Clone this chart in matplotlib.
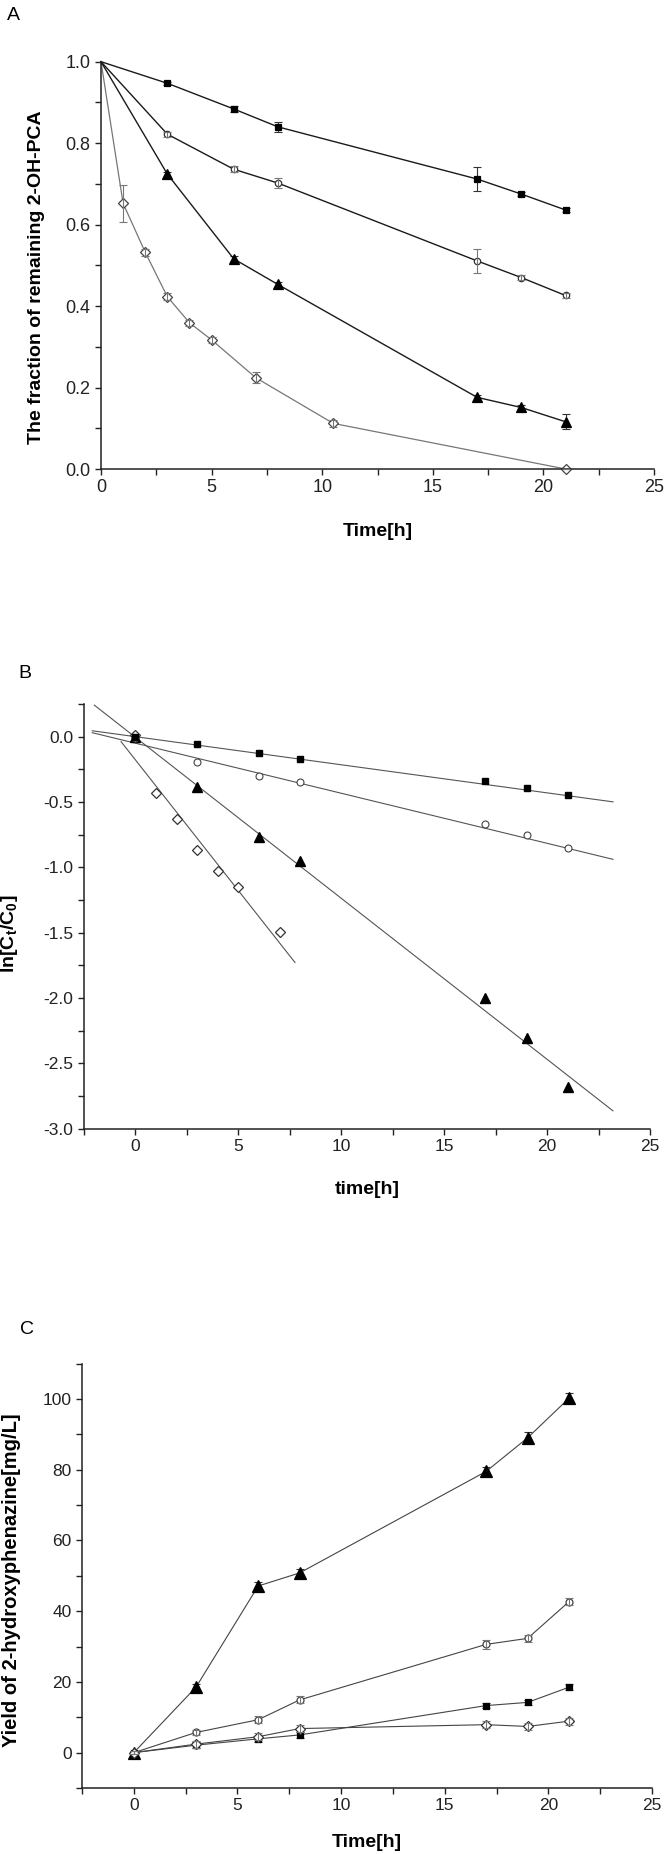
import numpy as np
import matplotlib
matplotlib.use("Agg")
import matplotlib.pyplot as plt
from matplotlib.ticker import MultipleLocator, FormatStrFormatter

plt.rcParams['font.family'] = ['Liberation Sans', 'DejaVu Sans']
plt.rcParams['axes.unicode_minus'] = False
plt.rcParams['mathtext.fontset'] = 'custom'
plt.rcParams['mathtext.rm'] = 'Liberation Sans'
plt.rcParams['mathtext.bf'] = 'Liberation Sans:bold'

# ---------------- Panel A data ----------------
a_t_main = [0, 3, 6, 8, 17, 19, 21]
a_square = [1.0, 0.947, 0.884, 0.840, 0.712, 0.675, 0.636]
a_square_err = [0, 0.004, 0.007, 0.012, 0.030, 0.005, 0.005]
a_circle = [1.0, 0.822, 0.736, 0.702, 0.511, 0.470, 0.426]
a_circle_err = [0, 0.006, 0.008, 0.012, 0.030, 0.006, 0.006]
a_triangle = [1.0, 0.724, 0.516, 0.453, 0.176, 0.151, 0.116]
a_triangle_err = [0, 0.006, 0.006, 0.006, 0.006, 0.006, 0.018]
a_t_diamond = [0, 1, 2, 3, 4, 5, 7, 10.5, 21]
a_diamond = [1.0, 0.652, 0.532, 0.423, 0.359, 0.317, 0.224, 0.112, 0.0]
a_diamond_err = [0, 0.045, 0.008, 0.008, 0.008, 0.008, 0.014, 0.008, 0]

# ---------------- Panel B data ----------------
b_t_main = [0, 3, 6, 8, 17, 19, 21]
b_square = [0.0, -0.055, -0.124, -0.173, -0.336, -0.391, -0.449]
b_circle = [-0.01, -0.193, -0.303, -0.350, -0.669, -0.751, -0.851]
b_triangle = [0.0, -0.383, -0.768, -0.950, -2.001, -2.304, -2.681]
b_t_diamond = [0, 1, 2, 3, 4, 5, 7]
b_diamond = [0.01, -0.432, -0.633, -0.864, -1.027, -1.153, -1.495]
# linear fits as drawn: slope, intercept, x-start, x-end
b_fit_square = (-0.0215, 0.000, -2.1, 23.2)
b_fit_circle = (-0.0383, -0.050, -2.1, 23.2)
b_fit_triangle = (-0.1232, -0.005, -2.0, 23.2)
b_fit_diamond = (-0.200, -0.178, -0.7, 7.75)

# ---------------- Panel C data ----------------
c_t = [0, 3, 6, 8, 17, 19, 21]
c_triangle = [0.0, 18.5, 47.1, 50.8, 79.5, 89.0, 100.2]
c_triangle_err = [0.5, 1.0, 1.0, 1.0, 1.2, 1.5, 1.5]
c_circle = [0.0, 5.7, 9.3, 14.9, 30.6, 32.3, 42.7]
c_circle_err = [0.5, 0.8, 1.0, 1.0, 1.2, 1.0, 1.0]
c_square = [0.0, 2.1, 3.9, 5.0, 13.3, 14.2, 18.5]
c_square_err = [0.5, 0.8, 0.8, 0.8, 0.8, 0.8, 0.8]
c_diamond = [0.0, 2.4, 4.5, 6.8, 7.9, 7.4, 8.9]
c_diamond_err = [0.5, 1.0, 1.0, 1.0, 1.0, 1.0, 1.0]

W, H = 664, 1854
fig = plt.figure(figsize=(W / 100, H / 100), dpi=100)

LABEL_FS = 14
DARK = '#1a1a1a'
GREY = '#555555'


def style_axes(ax, fs):
    for s in ['top', 'right']:
        ax.spines[s].set_visible(False)
    for s in ['left', 'bottom']:
        ax.spines[s].set_linewidth(1.1)
        ax.spines[s].set_color('#222222')
    ax.tick_params(which='both', direction='out', length=4.5, width=1.0,
                   labelsize=fs, colors='#222222')
    ax.tick_params(which='major', pad=3)


def series(ax, x, y, err, marker, ms, face, edge, lc, lw, err_on_top,
           first=0, ecol='#777777'):
    ax.plot(x, y, color=lc, lw=lw, marker=marker, ms=ms, mfc=face, mec=edge,
            mew=0.9, zorder=2, clip_on=False, markevery=slice(first, None))
    if err is not None:
        ax.errorbar(x[first:], y[first:], yerr=err[first:], fmt='none',
                    ecolor=ecol, elinewidth=0.8, capsize=3, capthick=0.8,
                    zorder=3 if err_on_top else 1.5, clip_on=False)


# ================= Panel A =================
axA = fig.add_axes([101 / W, 1 - 469 / H, 553 / W, 407.3 / H])
style_axes(axA, 13)
series(axA, a_t_diamond, a_diamond, a_diamond_err, 'D', 5, 'white', '#444444', '#777777', 0.9, True, first=1)
series(axA, a_t_main, a_triangle, a_triangle_err, '^', 6.5, 'black', 'black', DARK, 1.0, False, first=1, ecol='#333333')
series(axA, a_t_main, a_circle, a_circle_err, 'o', 4.6, 'white', '#333333', DARK, 1.0, True, first=1)
series(axA, a_t_main, a_square, a_square_err, 's', 4.3, 'black', 'black', DARK, 1.0, False, first=1, ecol='#333333')
axA.set_xlim(0, 25)
axA.set_ylim(0, 1.0)
axA.xaxis.set_major_locator(MultipleLocator(5))
axA.xaxis.set_minor_locator(MultipleLocator(2.5))
axA.yaxis.set_major_locator(MultipleLocator(0.2))
axA.yaxis.set_minor_locator(MultipleLocator(0.1))
axA.yaxis.set_major_formatter(FormatStrFormatter('%.1f'))
axA.set_xlabel('Time[h]', fontsize=LABEL_FS, fontweight='bold')
axA.set_ylabel('The fraction of remaining 2-OH-PCA', fontsize=LABEL_FS, fontweight='bold')
axA.xaxis.set_label_coords(0.5, -0.133)
axA.yaxis.set_label_coords(-0.101, 0.47)
fig.text(13 / W, 1 - 15 / H, 'A', fontsize=14, ha='center', va='center')

# ================= Panel B =================
axB = fig.add_axes([84 / W, 1 - 1128.7 / H, 566 / W, 424.7 / H])
style_axes(axB, 12.5)
for fit in (b_fit_square, b_fit_circle, b_fit_triangle, b_fit_diamond):
    k, b0, xs, xe = fit
    xx = np.array([xs, xe])
    axB.plot(xx, k * xx + b0, color=GREY, lw=0.8, zorder=1)
axB.plot(b_t_main, b_triangle, ls='none', marker='^', ms=7, mfc='black', mec='black', zorder=3)
axB.plot(b_t_main, b_circle, ls='none', marker='o', ms=5, mfc='white', mec='#444444', mew=0.8, zorder=3)
axB.plot(b_t_diamond, b_diamond, ls='none', marker='D', ms=5.3, mfc='white', mec='#333333', mew=0.9, zorder=3)
axB.plot(b_t_main, b_square, ls='none', marker='s', ms=4.3, mfc='black', mec='black', zorder=3)
axB.set_xlim(-2.5, 25)
axB.set_ylim(-3.0, 0.25)
axB.xaxis.set_major_locator(MultipleLocator(5))
axB.xaxis.set_minor_locator(MultipleLocator(2.5))
axB.yaxis.set_major_locator(MultipleLocator(0.5))
axB.yaxis.set_minor_locator(MultipleLocator(0.25))
axB.yaxis.set_major_formatter(FormatStrFormatter('%.1f'))
axB.set_xlabel('time[h]', fontsize=LABEL_FS, fontweight='bold')
axB.set_ylabel(r'ln[C$_\mathbf{t}$/C$_\mathbf{0}$]', fontsize=LABEL_FS, fontweight='bold')
axB.xaxis.set_label_coords(0.5, -0.122)
axB.yaxis.set_label_coords(-0.113, 0.458)
fig.text(25 / W, 1 - 673 / H, 'B', fontsize=14, ha='center', va='center')

# ================= Panel C =================
axC = fig.add_axes([82 / W, 1 - 1788 / H, 570 / W, 424.5 / H])
style_axes(axC, 12.5)
series(axC, c_t, c_triangle, c_triangle_err, '^', 8, 'black', 'black', '#444444', 0.8, False, ecol='#333333')
series(axC, c_t, c_circle, c_circle_err, 'o', 5, 'white', '#444444', '#444444', 0.8, True)
series(axC, c_t, c_square, c_square_err, 's', 4.3, 'black', 'black', '#444444', 0.8, False, ecol='#333333')
series(axC, c_t, c_diamond, c_diamond_err, 'D', 5.3, 'white', '#333333', '#444444', 0.8, True)
axC.set_xlim(-2.5, 25)
axC.set_ylim(-10, 110)
axC.xaxis.set_major_locator(MultipleLocator(5))
axC.xaxis.set_minor_locator(MultipleLocator(2.5))
axC.yaxis.set_major_locator(MultipleLocator(20))
axC.yaxis.set_minor_locator(MultipleLocator(10))
axC.set_xlabel('Time[h]', fontsize=LABEL_FS, fontweight='bold')
axC.set_ylabel('Yield of 2-hydroxyphenazine[mg/L]', fontsize=14.5, fontweight='bold')
axC.xaxis.set_label_coords(0.5, -0.108)
axC.yaxis.set_label_coords(-0.107, 0.49)
fig.text(27 / W, 1 - 1330 / H, 'C', fontsize=14, ha='center', va='center')

fig.savefig('out.png', dpi=100, facecolor='white')
